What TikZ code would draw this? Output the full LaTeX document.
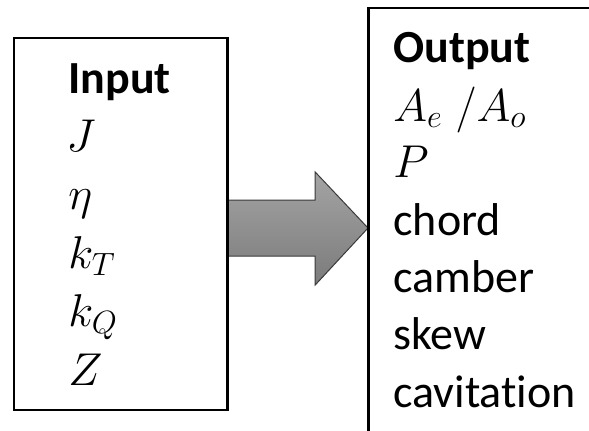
\RequirePackage{fix-cm}
\documentclass[tikz,border=0pt]{standalone}
\usepackage{fontspec}
\setmainfont[Ligatures=NoCommon]{Carlito}
\usetikzlibrary{calc}
\definecolor{arrowtop}{HTML}{A4A4A4}
\definecolor{arrowbottom}{HTML}{7B7B7B}
\definecolor{arrowedge}{HTML}{3A3A3A}
\begin{document}
\begin{tikzpicture}[x=0.5pt,y=-0.5pt,
  box/.style={draw=black,line width=1.1pt,inner sep=0pt},
  label/.style={anchor=base west,inner sep=0pt,font=\fontsize{23}{28}\selectfont},
  heading/.style={anchor=base west,inner sep=0pt,font=\fontsize{23}{28}\selectfont\bfseries},
  flowarrow/.style={draw=arrowedge,line width=0.5pt,top color=arrowtop,bottom color=arrowbottom,line join=miter}]
\useasboundingbox (0,0) rectangle (589,430);
\clip (0,0) rectangle (589,430);

% the two boxes (the output box runs past the page edge)
\node[box,anchor=north west,minimum width=106.5pt,minimum height=186pt] (inbox) at (13,37) {};
\node[box,anchor=north west,minimum width=150pt,minimum height=250pt] (outbox) at (368,7) {};

% block arrow from the input box to the output box
\coordinate (mid) at (0,228);
\path[flowarrow] ($(inbox.east|-mid)+(0,-28)$) -- ++(87,0) -- ++(0,-28)
  -- (outbox.west|-mid) -- ($(inbox.east|-mid)+(87,57)$) -- ++(0,-29)
  -- ($(inbox.east|-mid)+(0,28)$) -- cycle;
\draw[line width=1.1pt] (inbox.north east) -- (inbox.south east);
\draw[line width=1.1pt] (outbox.north west) -- (outbox.south west);

% input list
\node[heading] (inhead) at (68,93) {Input};
\node[label] (inJ) at (66,151.4) {$J$};
\node[label] (ineta) at (68,209.8) {$\eta$};
\node[label] (inkT) at (68,268.2) {$k_T$};
\node[label] (inkQ) at (68,326.6) {$k_Q$};
\node[label] (inZ) at (68,385) {$Z$};

% output list
\node[heading] (outhead) at (393,62) {Output};
\node[label] (outA) at (393,121) {$A_e\;/A_o$};
\node[label] (outP) at (393,177) {$P$};
\node[label] (outchord) at (393,235) {chord};
\node[label] (outcamber) at (393,292) {camber};
\node[label] (outskew) at (393,349.5) {skew};
\node[label] (outcav) at (393,407) {cavitation};
\end{tikzpicture}
\end{document}
